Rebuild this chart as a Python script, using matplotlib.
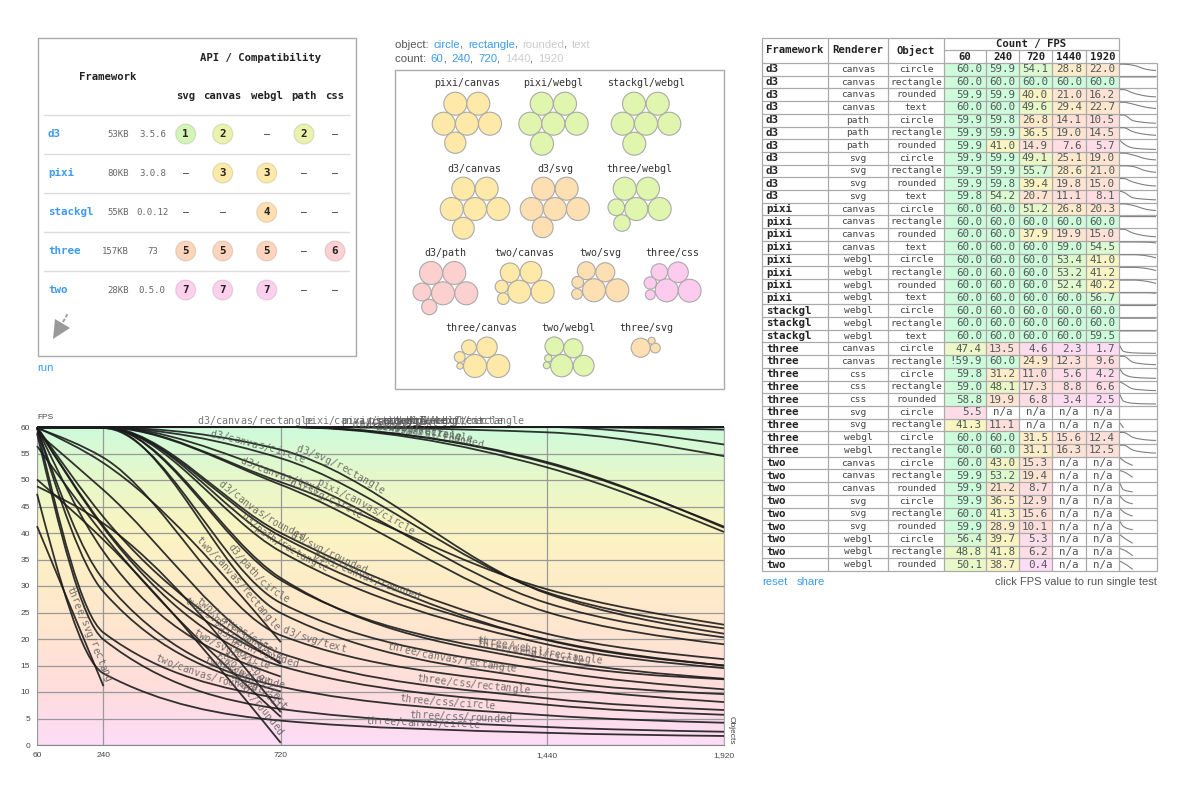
import matplotlib
matplotlib.use('Agg')
import matplotlib.pyplot as plt
import numpy as np
from matplotlib.colors import LinearSegmentedColormap
from matplotlib.patches import Circle, PathPatch, Polygon, Rectangle
from matplotlib.path import Path
from matplotlib.transforms import IdentityTransform

MONO = 'DejaVu Sans Mono'
SANS = 'Liberation Sans'
BLUE = '#3d9bef'

counts = [60, 240, 720, 1440, 1920]
count_labels = ['60', '240', '720', '1,440', '1,920']

frameworks = ['d3'] * 11 + ['pixi'] * 8 + ['stackgl'] * 3 + ['three'] * 9 + ['two'] * 9
renderers = (['canvas'] * 4 + ['path'] * 3 + ['svg'] * 4
             + ['canvas'] * 4 + ['webgl'] * 4
             + ['webgl'] * 3
             + ['canvas'] * 2 + ['css'] * 3 + ['svg'] * 2 + ['webgl'] * 2
             + ['canvas'] * 3 + ['svg'] * 3 + ['webgl'] * 3)
objects = ['circle', 'rectangle', 'rounded', 'text', 'circle', 'rectangle', 'rounded', 'circle', 'rectangle', 'rounded', 'text',
           'circle', 'rectangle', 'rounded', 'text', 'circle', 'rectangle', 'rounded', 'text',
           'circle', 'rectangle', 'text',
           'circle', 'rectangle', 'circle', 'rectangle', 'rounded', 'circle', 'rectangle', 'circle', 'rectangle',
           'circle', 'rectangle', 'rounded', 'circle', 'rectangle', 'rounded', 'circle', 'rectangle', 'rounded']

fps_60 = [60.0, 60.0, 59.9, 60.0, 59.9, 59.9, 59.9, 59.9, 59.9, 59.9, 59.8,
          60.0, 60.0, 60.0, 60.0, 60.0, 60.0, 60.0, 60.0,
          60.0, 60.0, 60.0,
          47.4, 59.9, 59.8, 59.0, 58.8, 5.5, 41.3, 60.0, 60.0,
          60.0, 59.9, 59.9, 59.9, 60.0, 59.9, 56.4, 48.8, 50.1]
fps_240 = [59.9, 60.0, 59.9, 60.0, 59.8, 59.9, 41.0, 59.9, 59.9, 59.8, 54.2,
           60.0, 60.0, 60.0, 60.0, 60.0, 60.0, 60.0, 60.0,
           60.0, 60.0, 60.0,
           13.5, 60.0, 31.2, 48.1, 19.9, None, 11.1, 60.0, 60.0,
           43.0, 53.2, 21.2, 36.5, 41.3, 28.9, 39.7, 41.8, 38.7]
fps_720 = [54.1, 60.0, 40.0, 49.6, 26.8, 36.5, 14.9, 49.1, 55.7, 39.4, 20.7,
           51.2, 60.0, 37.9, 60.0, 60.0, 60.0, 60.0, 60.0,
           60.0, 60.0, 60.0,
           4.6, 24.9, 11.0, 17.3, 6.8, None, None, 31.5, 31.1,
           15.3, 19.4, 8.7, 12.9, 15.6, 10.1, 5.3, 6.2, 0.4]
fps_1440 = [28.8, 60.0, 21.0, 29.4, 14.1, 19.0, 7.6, 25.1, 28.6, 19.8, 11.1,
            26.8, 60.0, 19.9, 59.0, 53.4, 53.2, 52.4, 60.0,
            60.0, 60.0, 60.0,
            2.3, 12.3, 5.6, 8.8, 3.4, None, None, 15.6, 16.3,
            None, None, None, None, None, None, None, None, None]
fps_1920 = [22.0, 60.0, 16.2, 22.7, 10.5, 14.5, 5.7, 19.0, 21.0, 15.0, 8.1,
            20.3, 60.0, 15.0, 54.5, 41.0, 41.2, 40.2, 56.7,
            60.0, 60.0, 59.5,
            1.7, 9.6, 4.2, 6.6, 2.5, None, None, 12.4, 12.5,
            None, None, None, None, None, None, None, None, None]
flagged_tests = ['three/canvas/rectangle']

api_frameworks = ['d3', 'pixi', 'stackgl', 'three', 'two']
api_sizes = ['53KB', '80KB', '55KB', '157KB', '28KB']
api_versions = ['3.5.6', '3.0.8', '0.0.12', '73', '0.5.0']
api_names = ['svg', 'canvas', 'webgl', 'path', 'css']
api_ranks = [[1, 2, None, 2, None],
             [None, 3, 3, None, None],
             [None, None, 4, None, None],
             [5, 5, 5, None, 6],
             [7, 7, 7, None, None]]

bubble_names = ['pixi/canvas', 'pixi/webgl', 'stackgl/webgl', 'd3/canvas', 'd3/svg', 'three/webgl',
                'd3/path', 'two/canvas', 'two/svg', 'three/css', 'three/canvas', 'two/webgl', 'three/svg']
bubble_fps = [[60.0, 60.0, 60.0, 60.0, 60.0, 51.2],
              [60.0, 60.0, 60.0, 60.0, 60.0, 60.0],
              [60.0, 60.0, 60.0, 60.0, 60.0, 60.0],
              [60.0, 59.9, 60.0, 60.0, 60.0, 54.1],
              [59.9, 59.9, 59.9, 59.9, 59.9, 49.1],
              [60.0, 60.0, 60.0, 60.0, 31.5, 31.1],
              [59.9, 59.9, 59.9, 59.8, 36.5, 26.8],
              [53.2, 43.0, 60.0, 59.9, 19.4, 15.3],
              [59.9, 60.0, 41.3, 36.5, 15.6, 12.9],
              [59.8, 59.0, 48.1, 31.2, 17.3, 11.0],
              [59.9, 60.0, 47.4, 24.9, 13.5, 4.6],
              [56.4, 48.8, 41.8, 39.7, 6.2, 5.3],
              [41.3, 11.1, 5.5]]

# bubble layout on the page, in pixels
bubble_fill = ['#fee9a8', '#e0f5ae', '#e0f5ae', '#fee9a8', '#fddfb2', '#e0f5ae',
               '#fdd0d0', '#fee9a8', '#fddfb2', '#fdcbee', '#fee9a8', '#e0f5ae', '#fddfb2']
bubble_label_pos = [(466.7, 83.3), (553.3, 83.3), (646, 83.3), (474.7, 169), (555, 169), (639.3, 169),
                    (445, 253.3), (524.7, 253.3), (600, 253.3), (672.7, 253.3), (481.7, 327.7), (568.3, 327.7), (646, 327.7)]
bubble_centers = [[(455.3, 103.7), (478.3, 103.7), (443.7, 123.7), (467, 123.7), (490, 123.7), (455.3, 142.7)],
                  [(541.7, 103.7), (565, 103.7), (530.3, 123.7), (553.3, 123.7), (576.7, 123.7), (542, 143.7)],
                  [(634, 103.7), (657.7, 103.7), (622.7, 123.7), (646, 123.7), (669.3, 123.7), (634.3, 143.7)],
                  [(463.3, 188.7), (486.7, 188.7), (451.7, 209), (475, 209), (498.3, 209), (463.3, 228.3)],
                  [(543.3, 188.7), (566.7, 188.7), (531.7, 209), (555, 209), (578, 209), (542.7, 227.3)],
                  [(624.7, 188.7), (648, 188.7), (636.3, 209), (659.7, 209), (616.3, 207.3), (622, 223)],
                  [(431, 273), (454.3, 273), (443, 293.3), (466.3, 293.3), (422, 292), (429.3, 307)],
                  [(531, 272.3), (510, 272.7), (519.3, 291.7), (542.7, 291.7), (501.7, 286.7), (503.3, 298.7)],
                  [(594, 290.3), (617.3, 290.3), (605.3, 272.3), (586.3, 270.7), (577.7, 282.3), (577, 294)],
                  [(666.7, 290.3), (689.7, 290.7), (678, 272.3), (659.3, 272), (650.3, 283), (650.3, 294.7)],
                  [(475, 366), (498.3, 366), (487, 347.3), (469, 347.3), (459.7, 357), (460, 366)],
                  [(561.7, 365.7), (583.7, 365.7), (573.3, 348.3), (554.3, 346.3), (548.3, 358.3), (546.7, 365.3)],
                  [(640.7, 347.7), (655.3, 348), (651.7, 340.7)]]

# where each label starts along its curve, as a pixel column of the page
label_start = {
    'd3/canvas/rectangle': 196, 'pixi/canvas/rectangle': 302, 'pixi/canvas/text': 340,
    'pixi/webgl/text': 365, 'stackgl/webgl/circle': 380, 'stackgl/webgl/rectangle': 382,
    'stackgl/webgl/text': 375, 'pixi/webgl/circle': 355, 'pixi/webgl/rectangle': 350,
    'pixi/webgl/rounded': 373, 'd3/canvas/circle': 207, 'd3/svg/rectangle': 293,
    'd3/canvas/text': 238, 'd3/svg/circle': 285, 'pixi/canvas/circle': 313,
    'd3/canvas/rounded': 214, 'd3/path/rectangle': 238, 'd3/svg/rounded': 287,
    'pixi/canvas/rounded': 309, 'd3/path/circle': 224, 'two/canvas/rectangle': 192,
    'two/svg/rectangle': 182, 'three/svg/rectangle': 63, 'two/canvas/rounded': 152,
    'd3/svg/text': 280, 'two/canvas/circle': 193, 'two/svg/circle': 190,
    'two/svg/rounded': 200, 'd3/path/rounded': 212, 'two/webgl/rectangle': 225,
    'two/webgl/circle': 217, 'two/webgl/rounded': 210, 'three/canvas/rectangle': 385,
    'three/webgl/rectangle': 475, 'three/webgl/circle': 473, 'three/css/rectangle': 415,
    'three/css/circle': 398, 'three/css/rounded': 408, 'three/canvas/circle': 364,
}

fps_cmap = LinearSegmentedColormap.from_list('fps', [
    (0.0, '#fddcf8'), (10 / 60, '#ffdddd'), (25 / 60, '#ffe8cc'), (40 / 60, '#fbf4c2'),
    (50 / 60, '#e8f8c8'), (1.0, '#cdfbdc')])


def series_points(row):
    values = [fps_60[row], fps_240[row], fps_720[row], fps_1440[row], fps_1920[row]]
    xs, ys = [], []
    for x, v in zip(counts, values):
        if v is not None:
            xs.append(x)
            ys.append(v)
    return xs, ys


def monotone_segments(xs, ys):
    """Bezier segments of a monotone cubic through the points."""
    n = len(xs)
    slopes = [(ys[i + 1] - ys[i]) / (xs[i + 1] - xs[i]) for i in range(n - 1)]
    tangents = [slopes[0]] + [0.0] * (n - 2) + [slopes[-1]]
    for i in range(1, n - 1):
        h0, h1 = xs[i] - xs[i - 1], xs[i + 1] - xs[i]
        s0, s1 = slopes[i - 1], slopes[i]
        p = (s0 * h1 + s1 * h0) / (h0 + h1)
        if s0 * s1 > 0:
            tangents[i] = np.sign(s0) * min(abs(s0), abs(s1), 0.5 * abs(p)) * 2
    if n > 2:
        tangents[0] = (3 * slopes[0] - tangents[1]) / 2
        tangents[-1] = (3 * slopes[-1] - tangents[-2]) / 2
    segments = []
    for i in range(n - 1):
        dx = (xs[i + 1] - xs[i]) / 3
        segments.append(((xs[i], ys[i]),
                         (xs[i] + dx, ys[i] + dx * tangents[i]),
                         (xs[i + 1] - dx, ys[i + 1] - dx * tangents[i + 1]),
                         (xs[i + 1], ys[i + 1])))
    return segments


def curve_path(xs, ys):
    verts = [(xs[0], ys[0])]
    codes = [Path.MOVETO]
    for seg in monotone_segments(xs, ys):
        verts.extend(seg[1:])
        codes.extend([Path.CURVE4] * 3)
    return Path(verts, codes)


def text_on_curve(ax, label, xs, ys, start_px):
    pts = []
    for seg in monotone_segments(xs, ys):
        p = np.array(seg, dtype=float)
        t = np.linspace(0, 1, 80)[:, None]
        pts.append((1 - t) ** 3 * p[0] + 3 * (1 - t) ** 2 * t * p[1] + 3 * (1 - t) * t ** 2 * p[2] + t ** 3 * p[3])
    disp = ax.transData.transform(np.vstack(pts))
    step = np.hypot(*np.diff(disp, axis=0).T)
    dist = np.concatenate([[0], np.cumsum(step)])
    start = dist[np.argmax(disp[:, 0] >= start_px)]
    advance = 6.02
    for i, ch in enumerate(label):
        s = start + (i + 0.5) * advance
        if s > dist[-1]:
            break  # text runs off the end of a shorter curve
        x = np.interp(s, dist, disp[:, 0])
        y = np.interp(s, dist, disp[:, 1])
        dx = np.interp(s + 2, dist, disp[:, 0]) - np.interp(s - 2, dist, disp[:, 0])
        dy = np.interp(s + 2, dist, disp[:, 1]) - np.interp(s - 2, dist, disp[:, 1])
        angle = np.arctan2(dy, dx)
        ax.text(x - 3 * np.sin(angle), y + 3 * np.cos(angle), ch, transform=IdentityTransform(),
                rotation=np.degrees(angle), rotation_mode='anchor', ha='center', va='baseline',
                family=MONO, fontsize=7.2, color='#555555', alpha=0.8, clip_on=False, zorder=4)


def draw_runs(page, x, y, runs):
    renderer = fig.canvas.get_renderer()
    for text, color in runs:
        t = page.text(x, y, text, family=SANS, fontsize=8.2, color=color, va='center', ha='left')
        x += t.get_window_extent(renderer).width + (1.5 if text.endswith(' ') else 0)


def draw_api_panel(page):
    page.add_patch(Rectangle((37.5, 38), 318.5, 318, fc='white', ec='#aaaaaa', lw=1))
    head = dict(family=MONO, fontsize=7.7, weight='bold', color='#222222', ha='center', va='center')
    page.text(261, 57.5, 'API / Compatibility', **head)
    page.text(108, 76.7, 'Framework', **head)
    col_x = [185.7, 222.7, 266.7, 304, 335]
    row_y = [134, 173, 212.3, 251, 290]
    for x, name in zip(col_x, api_names):
        page.text(x, 95.7, name, **head)
    for y in row_y:
        page.plot([44, 349], [y - 19.3, y - 19.3], color='#dddddd', lw=1)
    badge = ['#d5f5b8', '#eaf3ab', '#fde9a8', '#fddfb0', '#fdd5bd', '#fdd0d3', '#fdd0ee']
    for r, y in enumerate(row_y):
        page.text(48, y, api_frameworks[r], family=MONO, fontsize=7.8, weight='bold', color=BLUE, va='center')
        page.text(129, y, api_sizes[r], family=MONO, fontsize=6.5, color='#666666', ha='right', va='center')
        page.text(152.3, y, api_versions[r], family=MONO, fontsize=6.5, color='#666666', ha='center', va='center')
        for x, rank in zip(col_x, api_ranks[r]):
            if rank is None:
                page.text(x, y, '–', family=MONO, fontsize=7, color='#333333', ha='center', va='center')
            else:
                page.add_patch(Circle((x, y), 10, fc=badge[rank - 1], ec='#00000018', lw=1))
                page.text(x, y, str(rank), family=MONO, fontsize=7.8, weight='bold', color='#222222', ha='center', va='center')
    page.add_patch(Polygon([(53, 339), (55, 319), (70, 328)], fc='#999999', ec='none'))
    page.plot([63, 68], [322, 313], color='#999999', lw=1.3, ls=(0, (2, 1)))
    page.text(37, 367.5, 'run', family=SANS, fontsize=8.2, color=BLUE, va='center')


def draw_bubble_panel(page):
    draw_runs(page, 395, 44.5, [('object: ', '#555555'), ('circle', BLUE), (', ', '#555555'), ('rectangle', BLUE),
                                (', ', '#555555'), ('rounded', '#cccccc'), (', ', '#555555'), ('text', '#cccccc')])
    draw_runs(page, 395, 59, [('count: ', '#555555'), ('60', BLUE), (', ', '#555555'), ('240', BLUE), (', ', '#555555'),
                              ('720', BLUE), (', ', '#555555'), ('1440', '#cccccc'), (', ', '#555555'), ('1920', '#cccccc')])
    page.add_patch(Rectangle((395, 69.5), 329, 319.5, fc='white', ec='#aaaaaa', lw=1))
    for name, values, centers, fill, pos in zip(bubble_names, bubble_fps, bubble_centers, bubble_fill, bubble_label_pos):
        page.text(pos[0], pos[1], name, family=MONO, fontsize=7.2, color='#333333', ha='center', va='center')
        for v, c in zip(values, centers):
            page.add_patch(Circle(c, 11.5 * np.sqrt(v / 60), fc=fill, ec='#aaaaaa', lw=0.8))


def draw_table(page):
    col_edges = [762, 828, 888, 944, 986, 1019, 1052, 1086, 1119]
    spark_right = 1157
    top, mid, head_bottom = 37.7, 50, 63
    row_h = 12.7
    value_cols = [fps_60, fps_240, fps_720, fps_1440, fps_1920]
    n = len(frameworks)
    bottom = head_bottom + n * row_h
    line = dict(color='#aaaaaa', lw=0.9, solid_capstyle='butt')
    for r in range(n):
        y0 = head_bottom + r * row_h
        yc = y0 + row_h / 2
        page.text(766, yc, frameworks[r], family=MONO, fontsize=7.8, weight='bold', color='#222222', va='center')
        page.text(858, yc, renderers[r], family=MONO, fontsize=6.8, color='#444444', ha='center', va='center')
        page.text(916, yc, objects[r], family=MONO, fontsize=6.8, color='#444444', ha='center', va='center')
        test = frameworks[r] + '/' + renderers[r] + '/' + objects[r]
        for c, col in enumerate(value_cols):
            x0, x1 = col_edges[c + 3], col_edges[c + 4]
            v = col[r]
            if v is None:
                page.text((x0 + x1) / 2, yc, 'n/a', family=MONO, fontsize=7.8, color='#555555', ha='center', va='center')
            else:
                page.add_patch(Rectangle((x0, y0), x1 - x0, row_h, fc=fps_cmap(v / 60), ec='none'))
                label = '%.1f' % v
                if c == 0 and test in flagged_tests:
                    label = '!' + label
                page.text(x1 - 4, yc, label, family=MONO, fontsize=7.8, color='#4d5a55', ha='right', va='center')
        page.plot([col_edges[0], spark_right], [y0, y0], **line)
    page.plot([col_edges[0], spark_right], [bottom, bottom], **line)
    page.plot([col_edges[0], col_edges[-1]], [top, top], **line)
    page.plot([col_edges[3], col_edges[-1]], [mid, mid], **line)
    for i, x in enumerate(col_edges):
        y_top = mid if i in (4, 5, 6, 7) else top
        page.plot([x, x], [y_top, bottom], **line)
    page.plot([spark_right, spark_right], [head_bottom, bottom], **line)
    head = dict(family=MONO, fontsize=7.7, weight='bold', color='#222222', ha='center', va='center')
    page.text(795, 50, 'Framework', **head)
    page.text(858, 50, 'Renderer', **head)
    page.text(916, 50, 'Object', **head)
    page.text(1031.5, 44, 'Count / FPS', **head)
    for c, name in enumerate(counts):
        page.text((col_edges[c + 3] + col_edges[c + 4]) / 2, 56.7, str(name), **head)
    page.text(762, 582, 'reset', family=SANS, fontsize=8.2, color=BLUE, va='center')
    page.text(797, 582, 'share', family=SANS, fontsize=8.2, color=BLUE, va='center')
    page.text(1157, 582, 'click FPS value to run single test', family=SANS, fontsize=8.0, color='#555555', ha='right', va='center')

    # small per-row trend lines
    for r in range(n):
        xs, ys = series_points(r)
        if len(xs) < 2:
            continue
        y0 = head_bottom + r * row_h
        spark = fig.add_axes([1120 / W, 1 - (y0 + 11.2) / H, 36 / W, 10 / H])
        spark.set_xlim(60, 1920)
        spark.set_ylim(0, 60)
        spark.axis('off')
        spark.add_patch(PathPatch(curve_path(xs, ys), fc='none', ec='#808080', lw=0.8, clip_on=False))


def draw_chart():
    ax = fig.add_axes([37 / W, 1 - 745 / H, 687 / W, 318 / H])
    ax.imshow(np.linspace(60, 0, 256)[:, None], extent=[60, 1920, 0, 60], aspect='auto',
              cmap=fps_cmap, vmin=0, vmax=60, zorder=0)
    ax.set_xlim(60, 1920)
    ax.set_ylim(0, 60)
    ax.set_xticks(counts, count_labels)
    ax.set_yticks(range(0, 61, 5))
    ax.tick_params(length=0, labelsize=6, labelcolor='#444444', pad=5)
    for lab in ax.get_xticklabels() + ax.get_yticklabels():
        lab.set_family(SANS)
    ax.set_axisbelow(True)
    ax.grid(color='#999999', lw=0.9)
    for side in ['top', 'left']:
        ax.spines[side].set_visible(False)
    ax.spines['bottom'].set_color('#888888')
    ax.spines['right'].set_color('#aaaaaa')
    for r in range(len(frameworks)):
        xs, ys = series_points(r)
        if len(xs) < 2:
            continue
        ax.add_patch(PathPatch(curve_path(xs, ys), fc='none', ec='#1c1c1c', lw=1.3, alpha=0.9, clip_on=False, zorder=3))
        name = frameworks[r] + '/' + renderers[r] + '/' + objects[r]
        text_on_curve(ax, name, xs, ys, label_start[name])
    ax.text(0, 1.02, 'FPS', transform=ax.transAxes, family=SANS, fontsize=6, color='#444444', va='bottom')
    ax.text(1.011, 0, 'Objects', transform=ax.transAxes, family=SANS, fontsize=6, color='#444444',
            rotation=-90, ha='center', va='bottom')


W, H = 1200, 788
fig = plt.figure(figsize=(W / 100, H / 100), dpi=100, facecolor='white')
page = fig.add_axes([0, 0, 1, 1])
page.set_xlim(0, W)
page.set_ylim(H, 0)
page.axis('off')

draw_api_panel(page)
draw_bubble_panel(page)
draw_table(page)
draw_chart()

fig.savefig('out.png', dpi=100)
